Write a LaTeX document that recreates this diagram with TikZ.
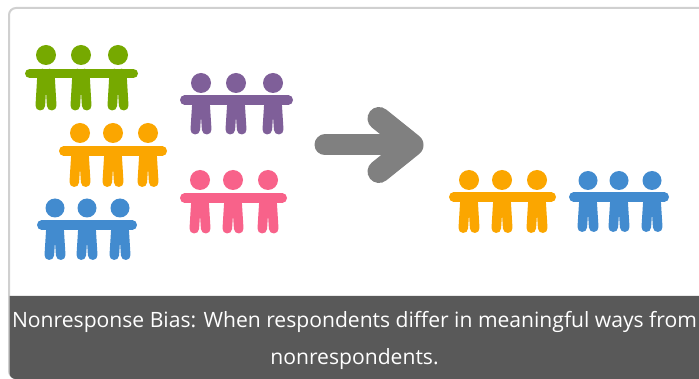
\documentclass[tikz,border=0pt]{standalone}
\usepackage{fontspec}
\setmainfont{Open Sans}
\definecolor{cgreen}{HTML}{76A900}
\definecolor{corange}{HTML}{FBA600}
\definecolor{cblue}{HTML}{428BCF}
\definecolor{cpurple}{HTML}{7F5F99}
\definecolor{cpink}{HTML}{F8628A}
\definecolor{cgrey}{HTML}{808080}
\definecolor{cband}{HTML}{595959}
\definecolor{cedge}{HTML}{D0D0D0}
% #1 colour, #2 bar left, #3 bar right, #4 bar y, #5 head y, #6 foot y, #7 head radius, #8 list of body x
\newcommand{\crowd}[8]{%
  \draw[line width=9.5pt,line cap=round,#1] ({#2+4.75},#4) -- ({#3-4.75},#4);
  \foreach \hx in {#8}{%
    \fill[#1] (\hx,#5) circle (#7);
    \draw[line width=9.6pt,line cap=round,#1] ({\hx-3.8},#4) -- ({\hx-5.7},{#6-4.8});
    \draw[line width=9.6pt,line cap=round,#1] ({\hx+3.8},#4) -- ({\hx+5.7},{#6-4.8});
    \fill[#1] ({\hx-4},#4) -- ({\hx+4},#4) -- ({\hx+4},{#4+12}) -- (\hx,{#4+17}) -- ({\hx-4},{#4+12}) -- cycle;
  }%
}
\begin{document}
\begin{tikzpicture}[x=1pt,y=-1pt,
  capline/.style={text=white,font=\fontsize{21.1pt}{24pt}\selectfont,inner sep=0pt,anchor=base}]
\useasboundingbox (0,0) rectangle (699,379);
\fill[white] (0,0) rectangle (699,379);
\draw[cedge,line width=2pt,fill=white,rounded corners=7pt] (710,8) -- (9,8) -- (9,378) -- (710,378);
\fill[cband] (710,296) -- (9.5,296) -- (9.5,373) arc[start angle=180,end angle=90,radius=6] -- (710,379) -- cycle;
\crowd{cgreen}{25}{138}{73.5}{55}{110.5}{10}{46,81,118}
\crowd{corange}{59}{167}{151}{133}{187}{10}{80,113,148}
\crowd{cblue}{37}{137}{225}{208}{260}{9.5}{55,87,120}
\crowd{cpurple}{180}{293}{100}{83}{134.5}{10}{201,236,273}
\crowd{cpink}{180}{287}{198}{180}{233.5}{10}{200,233,268}
\crowd{corange}{449}{556}{197}{180}{233}{10}{469,502,537}
\crowd{cblue}{569}{669}{197}{180.5}{232}{9.5}{588,619,652}
\draw[cgrey,line width=21pt,line cap=round] (325,145) -- (412,145);
\draw[cgrey,line width=23pt,line cap=round,line join=round] (379,118.5) -- (412,145) -- (379,171.5);
\node[capline] (line1) at (354.5,328) {Nonresponse Bias: When respondents differ in meaningful ways from};
\node[capline] (line2) at (354.5,364) {nonrespondents.};
\end{tikzpicture}
\end{document}
